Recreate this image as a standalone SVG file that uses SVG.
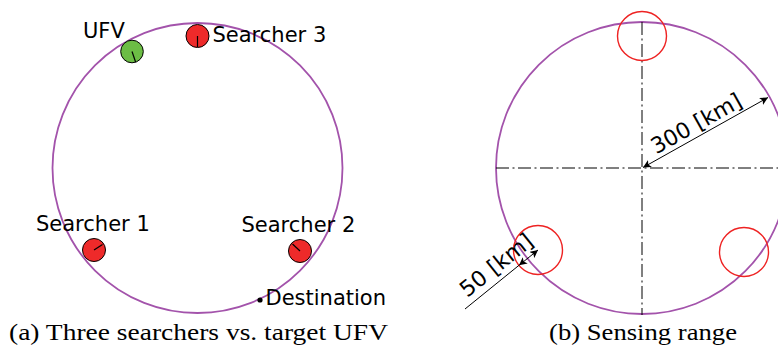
<svg xmlns="http://www.w3.org/2000/svg" width="778" height="350" viewBox="0 0 778 350">
<defs>
<style>
.orbit{fill:none;stroke:#a353ab;stroke-width:1.8}
.agent{stroke:#000;stroke-width:1}
.red{fill:#ee2a2a}
.green{fill:#6cbd45}
.tick{stroke:#000;stroke-width:1.2}
.lbl{font-family:"DejaVu Sans",sans-serif;font-size:21px;fill:#000}
.rot{font-size:22px}
.cap{font-family:"Liberation Serif",serif;font-size:23.5px;fill:#000}
.axis{stroke:#000;stroke-width:1;stroke-dasharray:13 3.5 2 3.5;fill:none}
.range{fill:none;stroke:#ee2222;stroke-width:1.4}
.dim{stroke:#000;stroke-width:1;fill:none}
</style>
<marker id="ah" viewBox="0 0 10 10" refX="10" refY="5" markerWidth="8" markerHeight="8" markerUnits="userSpaceOnUse" orient="auto-start-reverse">
<path d="M0,0 L10,5 L0,10 L2.5,5 Z" fill="#000"/>
</marker>
</defs>

<!-- Panel (a) -->
<g id="orbit-a"><circle class="orbit" cx="197.5" cy="168" r="145"/></g>
<g id="ufv">
<circle class="agent green" cx="132" cy="51.5" r="11.3"/>
<line class="tick" x1="132" y1="51.5" x2="135.6" y2="62"/>
<text class="lbl" x="83" y="38">UFV</text>
</g>
<g id="searcher3">
<circle class="agent red" cx="197.5" cy="36" r="11.5"/>
<line class="tick" x1="197.5" y1="36" x2="197.5" y2="47"/>
<text class="lbl" x="212.5" y="42">Searcher 3</text>
</g>
<g id="searcher1">
<circle class="agent red" cx="94" cy="250" r="11.5"/>
<line class="tick" x1="94" y1="250" x2="102.5" y2="244.5"/>
<text class="lbl" x="36" y="231">Searcher 1</text>
</g>
<g id="searcher2">
<circle class="agent red" cx="300" cy="251" r="11.5"/>
<line class="tick" x1="300" y1="251" x2="292.5" y2="244"/>
<text class="lbl" x="241.5" y="232">Searcher 2</text>
</g>
<g id="destination">
<circle cx="260" cy="300" r="2.6" fill="#000"/>
<text class="lbl" x="265.5" y="304.5">Destination</text>
</g>
<text class="cap" x="9" y="340" textLength="379" lengthAdjust="spacingAndGlyphs">(a) Three searchers vs. target UFV</text>

<!-- Panel (b) -->
<g id="orbit-b"><circle class="orbit" cx="642" cy="168" r="146"/></g>
<g id="axes">
<line class="axis" x1="642" y1="22" x2="642" y2="315"/>
<line class="axis" x1="496" y1="168" x2="778" y2="168"/>
</g>
<g id="range-top"><circle class="range" cx="642" cy="36" r="24.5"/></g>
<g id="range-left"><circle class="range" cx="538" cy="250" r="24.5"/></g>
<g id="range-right"><circle class="range" cx="744" cy="252" r="24.5"/></g>
<g id="connectors">
<line class="dim" x1="643" y1="167.5" x2="768" y2="97.5" marker-start="url(#ah)" marker-end="url(#ah)"/>
<line class="dim" x1="519" y1="265.3" x2="538" y2="250" marker-start="url(#ah)" marker-end="url(#ah)"/>
<line class="dim" x1="519" y1="265.3" x2="465" y2="309"/>
</g>
<text class="lbl rot" transform="translate(700,130) rotate(-29.2)" text-anchor="middle">300 [km]</text>
<text class="lbl rot" transform="translate(501,271) rotate(-38.8)" text-anchor="middle">50 [km]</text>
<text class="cap" x="549" y="340" textLength="188" lengthAdjust="spacingAndGlyphs">(b) Sensing range</text>
</svg>
